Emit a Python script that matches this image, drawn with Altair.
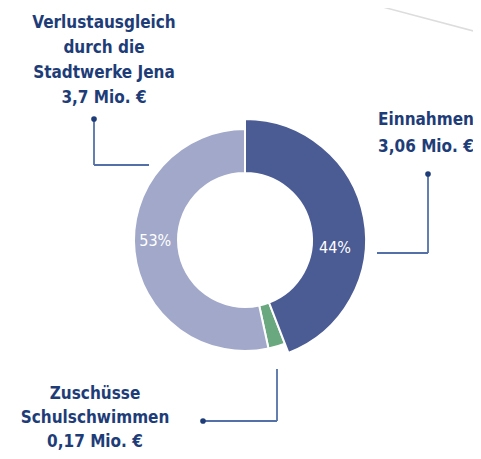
import altair as alt
import pandas as pd

# --- data ---
categories = ["Einnahmen", "Zuschüsse Schulschwimmen", "Verlustausgleich"]
values = [3.06, 0.17, 3.7]          # Mio. €
pct_labels = ["44%", "", "53%"]
callout_texts = [
    "Einnahmen\n3,06 Mio. €",
    "Zuschüsse\nSchulschwimmen\n0,17 Mio. €",
    "Verlustausgleich\ndurch die\nStadtwerke Jena\n3,7 Mio. €",
]
slice_colors = ["#4b5b94", "#6aa87f", "#a1a8c9"]

df = pd.DataFrame({
    "category": categories,
    "value": values,
    "pct": pct_labels,
    "idx": list(range(len(categories))),
})

CX, CY = 237, 232
NAVY = "#1e3d78"
LINE = "#5470a8"
FONT = "DejaVu Sans Condensed, Roboto, sans-serif"

TAU = 6.283185307179586
base = alt.Chart(df).transform_joinaggregate(
    total="sum(value)"
).transform_window(
    cum="sum(value)", sort=[alt.SortField("idx")]
).transform_calculate(
    t0=f"(datum.cum - datum.value) / datum.total * {TAU}",
    t1=f"datum.cum / datum.total * {TAU}",
    tm=f"(datum.cum - datum.value / 2) / datum.total * {TAU} + 0.18",
)

color = alt.Color("category:N", scale=alt.Scale(domain=categories, range=slice_colors), legend=None)

arcs_small = base.transform_filter(alt.datum.category != "Einnahmen").mark_arc(
    x=CX, y=CY, radius=111, radius2=67, stroke="white", strokeWidth=2
).encode(theta=alt.Theta("t0:Q", scale=None), theta2="t1:Q", color=color)

arcs_big = base.transform_filter(alt.datum.category == "Einnahmen").mark_arc(
    x=CX, y=CY, radius=121, radius2=67, stroke="white", strokeWidth=2
).encode(theta=alt.Theta("t0:Q", scale=None), theta2="t1:Q", color=color)

pct_text = base.mark_text(x=CX, y=CY, radius=90, dy=8, fontSize=16, color="white",
                          font=FONT).encode(theta=alt.Theta("tm:Q", scale=None), text="pct:N")

dummy = alt.Chart(pd.DataFrame({"a": [0]}))

def rule(x1, y1, x2, y2):
    return dummy.mark_rule(color=LINE, strokeWidth=1.8).encode(
        x=alt.value(x1), y=alt.value(y1), x2=alt.value(x2), y2=alt.value(y2))

def dot(x, y):
    return dummy.mark_circle(color=NAVY, size=32, opacity=1).encode(
        x=alt.value(x), y=alt.value(y))

def label(txt, x, y, lh):
    return dummy.mark_text(text=txt, lineBreak="\n", x=x, y=y, align="center",
                           baseline="alphabetic", fontSize=17, fontWeight="bold",
                           font=FONT, color=NAVY, lineHeight=lh).encode()

deco = dummy.mark_rule(color="#dddddd", strokeWidth=1.5).encode(
    x=alt.value(352), y=alt.value(-7), x2=alt.value(473), y2=alt.value(25))

layers = [
    deco,
    arcs_small,
    arcs_big,
    pct_text,
    # Verlustausgleich callout
    rule(86, 111, 86, 157), rule(86, 157, 141, 157), dot(86, 111),
    # Einnahmen callout
    rule(420, 166, 420, 245), rule(369, 245, 420, 245), dot(420, 166),
    # Zuschüsse callout
    rule(269, 361, 269, 413), rule(195, 413, 269, 413), dot(195, 413),
    label(callout_texts[2], 96, 20, 25),
    label(callout_texts[0], 418, 117, 27),
    label(callout_texts[1], 87, 391, 24),
]

chart = alt.layer(*layers).properties(
    width=465, height=443, padding=0, autosize=alt.AutoSizeParams(type="none"),
).configure_view(stroke=None)

chart.save("out.html", embed_options={"renderer": "svg", "actions": False})
